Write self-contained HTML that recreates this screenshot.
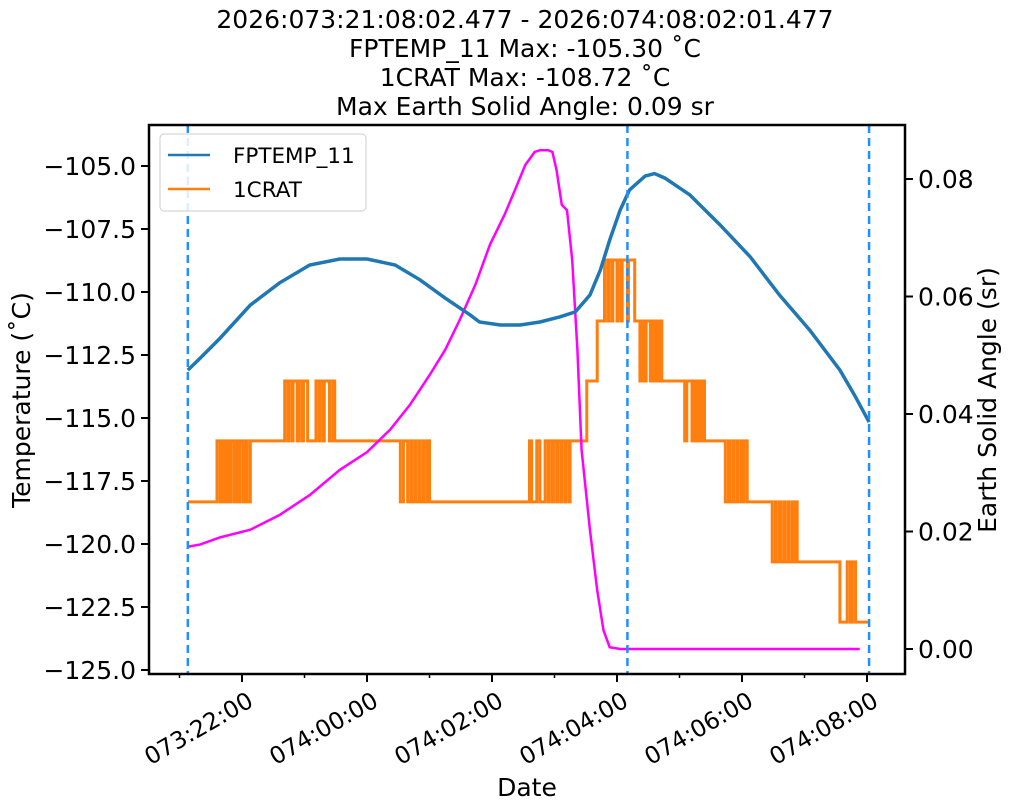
<!DOCTYPE html>
<html><head><meta charset="utf-8"><style>
html,body{margin:0;padding:0;background:#fff;}
svg{display:block;font-family:"DejaVu Sans","Liberation Sans",sans-serif;}
</style></head><body>
<svg id="chart" width="1011" height="811" viewBox="0 0 1011 811" xmlns="http://www.w3.org/2000/svg">
<g font-size="25" text-anchor="middle" fill="#000">
<text x="525" y="28">2026:073:21:08:02.477 - 2026:074:08:02:01.477</text>
<text x="525" y="57">FPTEMP_11 Max: -105.30 ˚C</text>
<text x="525" y="86">1CRAT Max: -108.72 ˚C</text>
<text x="525" y="115">Max Earth Solid Angle: 0.09 sr</text>
</g>
<g id="plot"></g>
<rect x="149" y="125" width="756" height="549" fill="none" stroke="#000" stroke-width="2.5"/>
<g id="axes" font-size="25" fill="#000"></g>
<text x="30" y="400" font-size="25" text-anchor="middle" transform="rotate(-90 30 400)">Temperature (˚C)</text>
<text x="996" y="400" font-size="25" text-anchor="middle" transform="rotate(-90 996 400)">Earth Solid Angle (sr)</text>
<text x="527" y="796" font-size="25" text-anchor="middle">Date</text>
<g>
<rect x="160" y="134" width="206" height="77" rx="4" fill="#fff" fill-opacity="0.85" stroke="#ccc"/>
<line x1="168" y1="155" x2="210" y2="155" stroke="#1f77b4" stroke-width="2.5"/>
<text x="233" y="163" font-size="21.5">FPTEMP_11</text>
<line x1="168" y1="189" x2="210" y2="189" stroke="#ff7f0e" stroke-width="2.5"/>
<text x="233" y="197" font-size="21.5">1CRAT</text>
</g>
</svg>
<script>
// times are minutes relative to 074:00:00
const blueTimes=[-172,-160,-141,-112,-84,-55,-26,0,27,51,75,99,108,128,147,166,185,200,214,224,233,243,252,267,276,286,310,339,368,396,425,454,468,482];
const blueValues=[-113.10,-112.62,-111.83,-110.52,-109.64,-108.93,-108.69,-108.69,-108.93,-109.52,-110.24,-110.91,-111.19,-111.31,-111.31,-111.19,-110.99,-110.79,-110.12,-109.13,-107.94,-106.75,-105.95,-105.40,-105.30,-105.48,-106.15,-107.34,-108.61,-110.12,-111.51,-113.10,-114.09,-115.16];
const orangeBaseTimes=[-172,-112,60,195,211,221,228,257,283,324,365,413,469];
const orangeBaseValues=[-118.33,-115.91,-118.33,-115.91,-113.53,-111.15,-108.73,-111.15,-113.53,-115.91,-118.33,-120.71,-123.10];
const orangeBlips=[[-144,-141,-115.91],[-139,-137,-115.91],[-135,-133,-115.91],[-131,-128,-115.91],[-126,-124,-115.91],[-122,-119,-115.91],[-117,-115,-115.91],
[-79,-76,-113.53],[-75,-72,-113.53],[-71,-67,-113.53],[-65,-62,-113.53],[-61,-57,-113.53],[-49,-46,-113.53],[-45,-42,-113.53],[-41,-36,-113.53],[-33,-31,-113.53],
[32,35,-118.33],[39,42,-118.33],[43,46,-118.33],[47,50,-118.33],[51,54,-118.33],[55,58,-118.33],
[156,158,-115.91],[163,166,-115.91],[171,174,-115.91],[175,178,-115.91],[179,182,-115.91],[183,186,-115.91],[187,190,-115.91],[191,194,-115.91],
[231,232,-111.15],[235,236,-111.15],[240,241,-111.15],[244,245,-111.15],[250,251,-111.15],
[262,264,-113.53],[266,268,-113.53],[272,274,-113.53],[275,277,-113.53],[278,280,-113.53],[281,282,-113.53],
[305,307,-115.91],[312,314,-115.91],[316,318,-115.91],[320,322,-115.91],
[344,347,-118.33],[348,351,-118.33],[352,355,-118.33],[356,359,-118.33],[360,362,-118.33],
[389,392,-120.71],[393,396,-120.71],[397,400,-120.71],[401,404,-120.71],[405,408,-120.71],[410,412,-120.71],
[454,461,-123.10],[464,466,-123.10]];
const magentaTimes=[-172,-160,-141,-112,-84,-55,-26,0,22,41,60,75,89,104,118,132,142,152,161,166,174,178,182,187,192,197,202,206,214,221,227,233,243,473];
const magentaValues=[0.0174,0.0178,0.0190,0.0203,0.0228,0.0262,0.0305,0.0335,0.0373,0.0415,0.0466,0.0509,0.0560,0.0620,0.0688,0.0739,0.0781,0.0824,0.0846,0.0849,0.0849,0.0846,0.0815,0.0756,0.0747,0.0662,0.0509,0.0339,0.0203,0.0100,0.0032,0.0003,0,0];
const vlineTimes=[-172,250,482];
const xTickMinutes=[-120,0,120,240,360,480];
const xTickLabels=["073:22:00","074:00:00","074:02:00","074:04:00","074:06:00","074:08:00"];
const xMinorMinutes=[-180,-60,60,180,300,420];
const yTicks=[-105,-107.5,-110,-112.5,-115,-117.5,-120,-122.5,-125];
const yTickLabels=["−105.0","−107.5","−110.0","−112.5","−115.0","−117.5","−120.0","−122.5","−125.0"];
const y2Ticks=[0,0.02,0.04,0.06,0.08];
const y2TickLabels=["0.00","0.02","0.04","0.06","0.08"];

const X=m=>367+m*62.5/60;
const Y=v=>166+(-105-v)*25.2;
const Y2=v=>649-v*5875;
const NS="http://www.w3.org/2000/svg";
const plot=document.getElementById('plot'), axes=document.getElementById('axes');
function mk(tag,attrs,parent){const e=document.createElementNS(NS,tag);for(const k in attrs)e.setAttribute(k,attrs[k]);parent.appendChild(e);return e;}

function baseAt(t){let v=orangeBaseValues[0];for(let i=0;i<orangeBaseTimes.length;i++)if(orangeBaseTimes[i]<=t)v=orangeBaseValues[i];return v;}
let events=[];
orangeBaseTimes.forEach((t,i)=>events.push([t,orangeBaseValues[i]]));
orangeBlips.forEach(b=>{events.push([b[0],b[2]]);events.push([b[1],baseAt(b[1])]);});
events.sort((a,b)=>a[0]-b[0]);
let d='M'+X(events[0][0])+','+Y(events[0][1]);let cur=events[0][1];
for(let i=1;i<events.length;i++){d+=' L'+X(events[i][0])+','+Y(cur)+' L'+X(events[i][0])+','+Y(events[i][1]);cur=events[i][1];}
d+=' L'+X(482)+','+Y(cur);
const op=mk('path',{d:d,fill:'none',stroke:'#ff7f0e','stroke-width':3},plot);



const mp=mk('polyline',{points:magentaTimes.map((t,i)=>X(t)+','+Y2(magentaValues[i])).join(' '),fill:'none',stroke:'#ff00ff','stroke-width':2.5},plot);



const bp=mk('polyline',{points:blueTimes.map((t,i)=>X(t)+','+Y(blueValues[i])).join(' '),fill:'none',stroke:'#1f77b4','stroke-width':3.5},plot);



vlineTimes.forEach(t=>{const l=mk('line',{x1:X(t),x2:X(t),y1:125,y2:674,stroke:'#1e90ff','stroke-width':2.5,'stroke-dasharray':'8,5'},plot);

});

xTickMinutes.forEach((m,i)=>{const x=X(m);mk('line',{x1:x,x2:x,y1:674,y2:682,stroke:'#000','stroke-width':2},axes);
const t=mk('text',{x:x+4,y:690,'text-anchor':'end','font-size':23.5,transform:'rotate(-30 '+(x+4)+' 690)','dominant-baseline':'hanging'},axes);t.textContent=xTickLabels[i];

});
xMinorMinutes.forEach(m=>mk('line',{x1:X(m),x2:X(m),y1:674,y2:678,stroke:'#000','stroke-width':1.5},axes));
yTicks.forEach((v,i)=>{const y=Y(v);mk('line',{x1:141,x2:149,y1:y,y2:y,stroke:'#000','stroke-width':2},axes);
const t=mk('text',{x:136,y:y+9,'text-anchor':'end'},axes);t.textContent=yTickLabels[i];

});
y2Ticks.forEach((v,i)=>{const y=Y2(v);mk('line',{x1:905,x2:913,y1:y,y2:y,stroke:'#000','stroke-width':2},axes);
const t=mk('text',{x:918,y:y+9,'text-anchor':'start'},axes);t.textContent=y2TickLabels[i];

});
</script>
</body></html>
